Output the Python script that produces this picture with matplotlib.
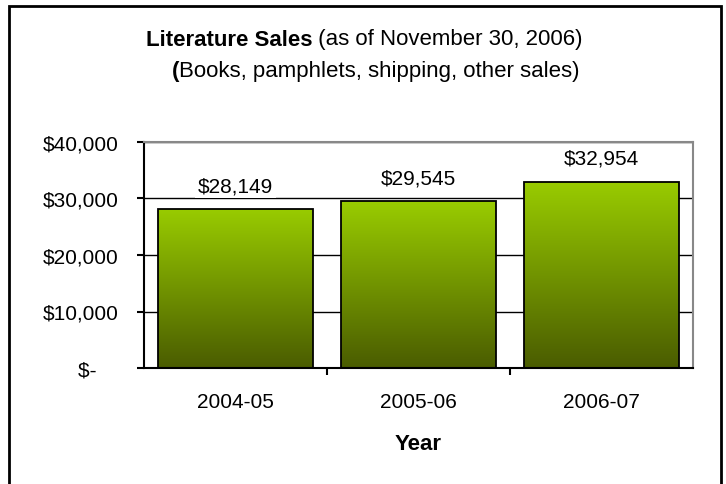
import matplotlib
matplotlib.use("Agg")
import matplotlib.pyplot as plt
from matplotlib.patches import Rectangle
from matplotlib.colors import LinearSegmentedColormap
import numpy as np

plt.rcParams['font.family'] = ['Liberation Sans', 'DejaVu Sans']

years = ["2004-05", "2005-06", "2006-07"]
sales = [28149, 29545, 32954]
yticks = [0, 10000, 20000, 30000, 40000]
ytick_labels = ["$-    ", "$10,000", "$20,000", "$30,000", "$40,000"]

fig = plt.figure(figsize=(7.26, 4.85), dpi=100)
ax = fig.add_axes([144/726, 1 - 369/485, (693 - 144)/726, (369 - 143)/485])

# outer chart border (bottom edge runs off the image)
fig.patches.append(Rectangle((9/726, -0.05), (721 - 9)/726, 1.05 - 7/485,
                             transform=fig.transFigure, fill=False,
                             edgecolor='black', linewidth=2))

x = np.arange(len(years))
width = 0.843
bars = ax.bar(x, sales, width=width, color='none', edgecolor='black',
              linewidth=1.3, zorder=3)

cmap = LinearSegmentedColormap.from_list("olive", ["#4a5c00", "#99cc00"])
grad = np.linspace(0, 1, 256).reshape(-1, 1)
for b in bars:
    x0, y0 = b.get_x(), b.get_y()
    w, h = b.get_width(), b.get_height()
    im = ax.imshow(grad, cmap=cmap, origin='lower', aspect='auto',
                   extent=[x0, x0 + w, y0, y0 + h], zorder=2)
    im.set_clip_path(b)

for xi, v in zip(x, sales):
    ax.annotate(f"${v:,}", (xi, v), xytext=(0, 10), textcoords='offset points',
                ha='center', va='bottom', fontsize=15,
                bbox=dict(boxstyle='square,pad=0.12', fc='white', ec='none'),
                zorder=5)

ax.set_xlim(-0.5, 2.5)
ax.set_ylim(0, 40000)
ax.set_yticks(yticks)
ax.set_yticklabels(ytick_labels, fontsize=15)
ax.set_xticks([0.5, 1.5], minor=False)
ax.set_xticklabels([])
ax.set_xticks(x, minor=True)
ax.set_xticklabels(years, minor=True, fontsize=15)
ax.tick_params(axis='x', which='minor', length=0, pad=17)
ax.tick_params(axis='x', which='major', length=5, width=1.5, direction='out')
ax.tick_params(axis='y', length=5, width=1.5, direction='out', pad=13)

ax.yaxis.grid(True, color='black', linewidth=1.0, zorder=1)
ax.set_axisbelow(True)
for s in ['top', 'right']:
    ax.spines[s].set_color('#888888')
    ax.spines[s].set_linewidth(1.5)
for s in ['left', 'bottom']:
    ax.spines[s].set_color('black')
    ax.spines[s].set_linewidth(1.5)

ax.set_xlabel("Year", fontsize=16, fontweight='bold', labelpad=16)

# title with mixed weights, each line starting where the reference does
fig.canvas.draw()
r = fig.canvas.get_renderer()
fs = 16
t1a = fig.text(146/726, 1 - 40/485, "Literature Sales", fontsize=fs, fontweight='bold', va='center')
t1b = fig.text(0, 1 - 40/485, " (as of November 30, 2006)", fontsize=fs, va='center')
t2a = fig.text(172/726, 1 - 71/485, "(", fontsize=fs, fontweight='bold', va='center')
t2b = fig.text(0, 1 - 71/485, "Books, pamphlets, shipping, other sales)", fontsize=fs, va='center')
fw = fig.bbox.width
for a, b in [(t1a, t1b), (t2a, t2b)]:
    wa = a.get_window_extent(r).width / fw
    b.set_x(a.get_position()[0] + wa)

fig.savefig("out.png", dpi=100)
